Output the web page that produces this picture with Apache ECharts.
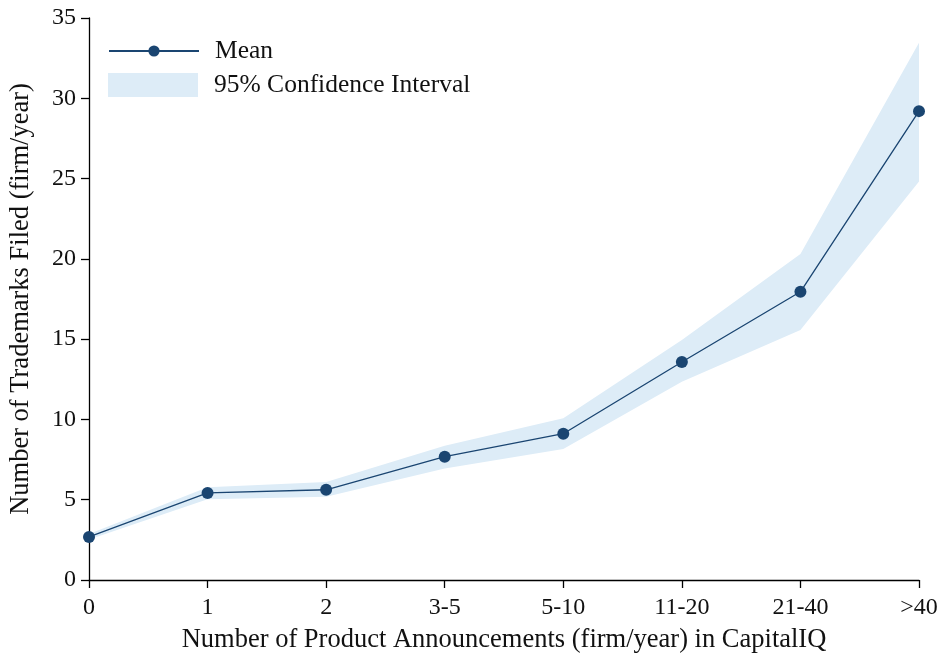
<!DOCTYPE html>
<html><head><meta charset="utf-8">
<script src="https://cdn.jsdelivr.net/npm/echarts@6/dist/echarts.min.js"></script>
<style>html,body{margin:0;padding:0;background:#fff}#c{width:944px;height:658px}</style>
</head><body><div id="c"></div>
<script>
const categories = ['0', '1', '2', '3-5', '5-10', '11-20', '21-40', '>40'];
const meanValues = [2.68, 5.42, 5.62, 7.68, 9.11, 13.58, 17.95, 29.2];
const ciLower = [2.52, 5.03, 5.19, 6.95, 8.16, 12.35, 15.57, 24.81];
const ciUpper = [2.86, 5.77, 6.10, 8.36, 10.07, 14.95, 20.30, 33.46];
const yTicks = [0, 5, 10, 15, 20, 25, 30, 35];

const FONT = 'Liberation Serif';
const NAVY = '#1a4571';
const BAND = '#ddecf7';
const TXT = '#111';
const ciWidth = ciUpper.map((u, i) => u - ciLower[i]);

const chart = echarts.init(document.getElementById('c'), null, {renderer: 'canvas'});
chart.setOption({
  animation: false,
  textStyle: {fontFamily: FONT, color: TXT},
  grid: {left: 89, right: 25, top: 18, bottom: 78, outerBoundsMode: 'none', containLabel: false},
  legend: [{
    data: ['Mean'], left: 108, top: 38, itemWidth: 90, itemHeight: 14, padding: 0,
    textStyle: {fontFamily: FONT, fontSize: 25.5, color: TXT, padding: [2, 0, 0, 11]}
  }, {
    data: [{name: '95% Confidence Interval', icon: 'rect'}], left: 108, top: 72, itemWidth: 90, itemHeight: 24, padding: 0,
    textStyle: {fontFamily: FONT, fontSize: 25.5, color: TXT, padding: [0, 0, 0, 11]}
  }],
  xAxis: {
    type: 'category', data: categories, boundaryGap: false,
    name: 'Number of Product Announcements (firm/year) in CapitalIQ',
    nameLocation: 'middle', nameGap: 47,
    nameTextStyle: {fontFamily: FONT, fontSize: 26.5, color: TXT},
    axisLine: {lineStyle: {color: '#000', width: 1.3}},
    axisTick: {show: true, length: 8, alignWithLabel: true, lineStyle: {color: '#000', width: 1.3}},
    axisLabel: {fontFamily: FONT, fontSize: 24, color: TXT, margin: 16},
    splitLine: {show: false}
  },
  yAxis: {
    type: 'value', min: yTicks[0], max: yTicks[yTicks.length - 1], interval: 5,
    name: 'Number of Trademarks Filed (firm/year)',
    nameLocation: 'middle', nameGap: 54,
    nameTextStyle: {fontFamily: FONT, fontSize: 26.5, color: TXT},
    axisLine: {show: true, lineStyle: {color: '#000', width: 1.3}},
    axisTick: {show: true, length: 8, lineStyle: {color: '#000', width: 1.3}},
    axisLabel: {fontFamily: FONT, fontSize: 24, color: TXT, margin: 13},
    splitLine: {show: false}
  },
  series: [{
    name: 'ciLower', type: 'line', data: ciLower, stack: 'ci', symbol: 'none',
    lineStyle: {opacity: 0}, silent: true, z: 1
  }, {
    name: '95% Confidence Interval', type: 'line', data: ciWidth, stack: 'ci', symbol: 'none',
    lineStyle: {opacity: 0}, areaStyle: {color: BAND, opacity: 1}, itemStyle: {color: BAND},
    silent: true, z: 1
  }, {
    name: 'Mean', type: 'line', data: meanValues, symbol: 'circle', symbolSize: 12,
    lineStyle: {color: NAVY, width: 1.3}, itemStyle: {color: NAVY}, z: 3
  }]
});
</script></body></html>
